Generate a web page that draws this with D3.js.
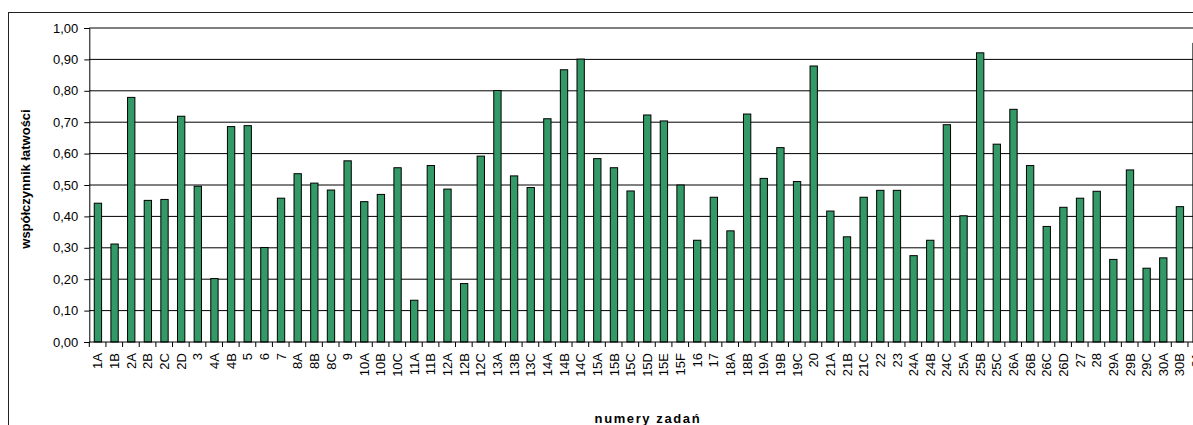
<!DOCTYPE html>
<html>
<head>
<meta charset="utf-8">
<script src="https://cdn.jsdelivr.net/npm/d3@7"></script>
<style>
  html, body { margin: 0; padding: 0; background: #fff; overflow: hidden; }
  svg { display: block; font-family: "Liberation Sans", Arial, sans-serif; }
</style>
</head>
<body>
<svg id="chart" width="1193" height="425"></svg>
<script>
const categories = ["1A","1B","2A","2B","2C","2D","3","4A","4B","5","6","7","8A","8B","8C","9","10A","10B","10C","11A","11B","12A","12B","12C","13A","13B","13C","14A","14B","14C","15A","15B","15C","15D","15E","15F","16","17","18A","18B","19A","19B","19C","20","21A","21B","21C","22","23","24A","24B","24C","25A","25B","25C","26A","26B","26C","26D","27","28","29A","29B","29C","30A","30B","31"];
const values = [0.442,0.312,0.779,0.451,0.454,0.719,0.496,0.202,0.686,0.689,0.301,0.458,0.536,0.506,0.484,0.577,0.447,0.470,0.555,0.133,0.562,0.487,0.186,0.592,0.801,0.529,0.492,0.711,0.867,0.901,0.584,0.555,0.481,0.723,0.704,0.500,0.324,0.461,0.354,0.726,0.521,0.619,0.511,0.879,0.417,0.335,0.461,0.483,0.483,0.275,0.324,0.692,0.402,0.921,0.630,0.741,0.562,0.368,0.429,0.458,0.480,0.263,0.548,0.235,0.268,0.431,0.951];
const yTicks = [0,0.1,0.2,0.3,0.4,0.5,0.6,0.7,0.8,0.9,1.0];
const yTitle = "współczynnik łatwości";
const xTitle = "numery zadań";

const svg = d3.select("#chart");
const x0 = 89.3, x1 = 1204.9, yTop = 28, yBot = 342;

// outer frame
svg.append("rect").attr("x", 8.5).attr("y", 12.5).attr("width", 1300).attr("height", 500)
  .attr("fill", "none").attr("stroke", "#222").attr("stroke-width", 1);

const x = d3.scaleBand().domain(categories).range([x0 + 0.3, x1]).paddingInner(0.56).paddingOuter(0.28);
const y = d3.scaleLinear().domain([0, 1]).range([yBot, yTop]);

// gridlines
svg.append("g").selectAll("line").data(yTicks.filter(d => d > 0)).join("line")
  .attr("x1", x0).attr("x2", x1)
  .attr("y1", d => y(d)).attr("y2", d => y(d))
  .attr("stroke", "#000").attr("stroke-width", 1);

// bars
svg.append("g").selectAll("rect").data(values).join("rect")
  .attr("x", (d, i) => x(categories[i]))
  .attr("y", d => y(d))
  .attr("width", x.bandwidth())
  .attr("height", d => y(0) - y(d))
  .attr("fill", "#339966").attr("stroke", "#000").attr("stroke-width", 1);

// y axis
const fmt = d => d.toFixed(2).replace(".", ",");
const yAxis = svg.append("g").attr("transform", `translate(${x0},0)`)
  .call(d3.axisLeft(y).tickValues(yTicks).tickFormat(fmt).tickSize(5).tickPadding(6));
yAxis.select(".domain").attr("stroke", "#000");
yAxis.selectAll(".tick line").attr("stroke", "#000");
yAxis.selectAll("text").attr("font-size", 13).attr("fill", "#000")
  .attr("font-family", "Liberation Sans, Arial, sans-serif");

// x axis
const xAxis = svg.append("g").attr("transform", `translate(0,${yBot})`)
  .call(d3.axisBottom(x).tickSize(0).tickPadding(0));
xAxis.select(".domain").remove();
svg.append("line").attr("x1", x0).attr("x2", x1).attr("y1", yBot).attr("y2", yBot).attr("stroke", "#000");
xAxis.selectAll("text")
  .attr("font-size", 13).attr("fill", "#000")
  .attr("font-family", "Liberation Sans, Arial, sans-serif")
  .attr("transform", "rotate(-90)")
  .attr("text-anchor", "end")
  .attr("x", -11).attr("y", 0).attr("dy", "0.35em");
// boundary tick marks
const step = x.step();
const bounds = d3.range(categories.length + 1).map(i => x0 + i * step);
svg.append("g").selectAll("line").data(bounds).join("line")
  .attr("x1", d => d).attr("x2", d => d)
  .attr("y1", yBot).attr("y2", yBot + 5)
  .attr("stroke", "#000");

// titles
svg.append("text")
  .attr("transform", `translate(30,${(yTop + yBot) / 2 - 6}) rotate(-90)`)
  .attr("text-anchor", "middle")
  .attr("font-size", 13).attr("font-weight", "bold").attr("fill", "#000")
  .text(yTitle);
svg.append("text")
  .attr("x", (x0 + x1) / 2).attr("y", 423)
  .attr("text-anchor", "middle")
  .attr("font-size", 13).attr("font-weight", "bold").attr("fill", "#000")
  .attr("textLength", 105).attr("lengthAdjust", "spacing")
  .text(xTitle);
</script>
</body>
</html>
